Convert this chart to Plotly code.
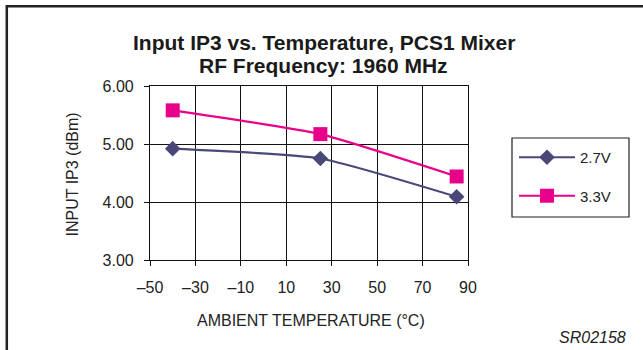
import plotly.graph_objects as go

temps = [-40, 25, 85]
v27 = [4.92, 4.75, 4.09]
v33 = [5.58, 5.17, 4.44]
series_names = ["2.7V", "3.3V"]
x_ticks = [-50, -30, -10, 10, 30, 50, 70, 90]
y_ticks = [3.0, 4.0, 5.0, 6.0]

W, H = 643, 350
L, R, T, B = 150, 468, 86, 260

def px(x):
    return (x - L) / (R - L)

def py(y):
    return (B - y) / (B - T)

C27 = "#4A4878"
C33 = "#E8008A"

fig = go.Figure()
fig.add_trace(go.Scatter(x=temps, y=v27, name=series_names[0], mode="lines+markers",
                         line=dict(color=C27, width=2.2, shape="spline", smoothing=0.5),
                         marker=dict(symbol="diamond", size=12, color=C27),
                         legendgroup="a"))
fig.add_trace(go.Scatter(x=temps, y=v33, name=series_names[1], mode="lines+markers",
                         line=dict(color=C33, width=2.2, shape="spline", smoothing=0.5),
                         marker=dict(symbol="square", size=14, color=C33),
                         legendgroup="b"))

font = "Liberation Sans, Arial, sans-serif"
tfont = dict(size=21, family=font, color="#1a1a1a")
fig.update_layout(
    width=W, height=H,
    margin=dict(l=L, r=W - R, t=T, b=H - B, pad=0),
    paper_bgcolor="white", plot_bgcolor="white",
    font=dict(family=font, size=16, color="#222"),
    showlegend=True,
    legend=dict(x=px(514), y=py(141), xanchor="left", yanchor="top",
                borderwidth=0, bgcolor="rgba(0,0,0,0)",
                font=dict(size=15, family=font, color="#222"),
                tracegroupgap=16, traceorder="grouped", itemwidth=56),
    xaxis=dict(range=[-50, 90], tickvals=x_ticks,
               ticktext=[("\u2013" + str(-t)) if t < 0 else str(t) for t in x_ticks],
               showgrid=True, gridcolor="#111", gridwidth=1,
               showline=True, linecolor="#111", linewidth=1.2, mirror=True,
               ticks="outside", ticklen=5, tickcolor="#111", zeroline=False,
               tickfont=dict(size=16), ticklabelstandoff=8),
    yaxis=dict(range=[3, 6], tickvals=y_ticks, tickformat=".2f",
               showgrid=True, gridcolor="#111", gridwidth=1,
               showline=True, linecolor="#111", linewidth=1.2, mirror=True,
               ticks="outside", ticklen=5, tickcolor="#111", zeroline=False,
               tickfont=dict(size=16), ticklabelstandoff=7),
    annotations=[
        dict(text="<b>Input IP3 vs. Temperature, PCS1 Mixer</b>",
             x=px(324), y=py(42), xref="paper", yref="paper", showarrow=False,
             xanchor="center", yanchor="middle", font=tfont),
        dict(text="<b>RF Frequency: 1960 MHz</b>",
             x=px(323), y=py(65), xref="paper", yref="paper", showarrow=False,
             xanchor="center", yanchor="middle", font=tfont),
        dict(text="AMBIENT TEMPERATURE (\u00b0C)", x=px(311), y=py(320), xref="paper", yref="paper",
             showarrow=False, xanchor="center", yanchor="middle", font=dict(size=16)),
        dict(text="INPUT IP3 (dBm)", x=px(71.5), y=py(175), xref="paper", yref="paper",
             showarrow=False, xanchor="center", yanchor="middle", textangle=-90, font=dict(size=16)),
        dict(text="<i>SR02158</i>", x=px(628), y=py(337.5), xref="paper", yref="paper",
             showarrow=False, xanchor="right", yanchor="middle", font=dict(size=16)),
    ],
    shapes=[
        dict(type="line", xref="paper", yref="paper", x0=px(6.5), x1=px(660), y0=py(6.2), y1=py(6.2),
             line=dict(color="#222", width=2.5)),
        dict(type="line", xref="paper", yref="paper", x0=px(6.8), x1=px(6.8), y0=py(5), y1=py(370),
             line=dict(color="#222", width=2.5)),
        dict(type="rect", xref="paper", yref="paper", x0=px(512), x1=px(629), y0=py(138), y1=py(217),
             line=dict(color="#222", width=1.2), fillcolor="rgba(0,0,0,0)", layer="below"),
    ],
)

fig.write_html("out.html", config={"displayModeBar": False},
               post_script="document.body.style.margin='0px';document.body.style.padding='0px';")
